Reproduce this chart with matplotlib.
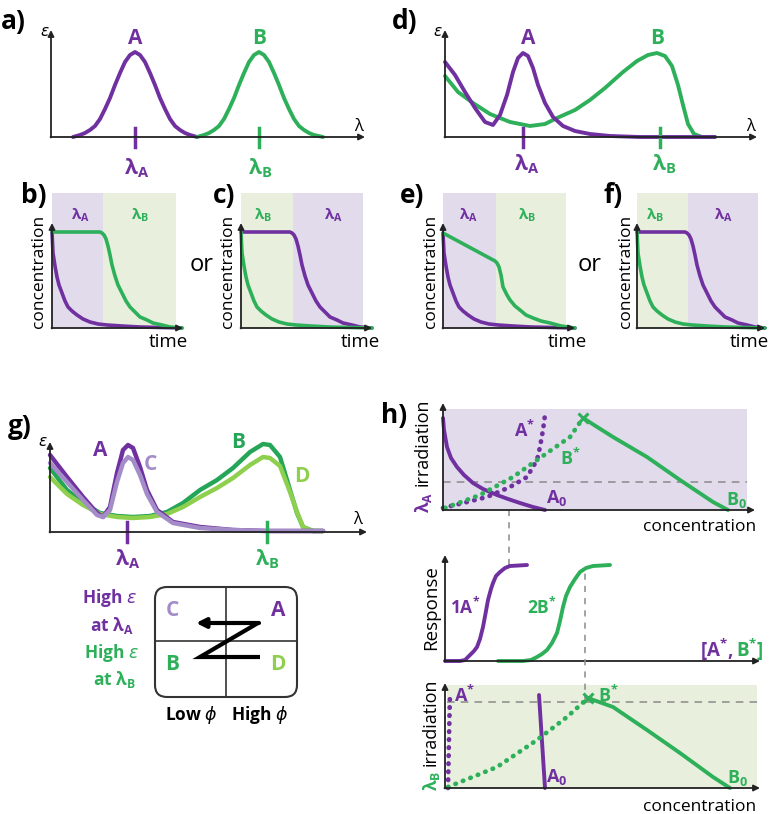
import matplotlib
matplotlib.use('Agg')
import matplotlib.pyplot as plt
from matplotlib.patches import Rectangle, FancyBboxPatch

plt.rcParams['font.family'] = ['Open Sans', 'DejaVu Sans']

# ---------------- colours ----------------
PURPLE = '#7030A0'
GREEN = '#2EB05A'
DGREEN = '#25A557'
LPURPLE = '#A48CC9'
LGREEN = '#8ED04E'
BG_PURPLE = '#E1DBEC'
BG_GREEN = '#E8F0DD'
AXC = '#222222'
DASH = '#8A8A8A'

# ---------------- data ----------------
# panel a : absorption spectra (wavelength, epsilon)
a_lam_A = [22, 29, 34, 39, 44, 49, 54, 59, 64, 69, 74, 79, 84, 89, 94, 99, 104, 109, 114, 119, 124, 129, 134, 139, 146]
a_eps_A = [0, 2, 4, 7, 11, 18, 28, 39, 52, 64, 75, 82, 85, 82, 75, 64, 52, 39, 28, 18, 11, 7, 4, 2, 0]
a_lam_B = [146, 153, 158, 163, 168, 173, 178, 183, 188, 193, 198, 203, 208, 213, 218, 223, 228, 233, 238, 243, 248, 253, 258, 263, 272]
a_eps_B = [0, 2, 4, 7, 11, 18, 28, 39, 52, 64, 75, 82, 85, 82, 75, 64, 52, 39, 28, 18, 11, 7, 4, 2, 0]
a_ticks = [84, 208]

# panel d
d_lam_A = [0, 10, 20, 30, 40, 48, 55, 62, 68, 73, 78, 83, 88, 93, 100, 108, 118, 130, 145, 165, 195, 270]
d_eps_A = [75, 62, 45, 29, 15, 12, 22, 42, 65, 79, 84, 81, 69, 52, 34, 20, 11, 6, 3, 1, 0, 0]
d_lam_B = [0, 13, 28, 45, 65, 85, 100, 112, 130, 145, 160, 178, 192, 203, 212, 220, 227, 233, 238, 243, 249, 257, 270]
d_eps_B = [61, 45, 34, 23, 15, 11, 13, 19, 27, 37, 49, 65, 76, 82, 84, 81, 71, 52, 32, 13, 3, 0, 0]
d_ticks = [78, 215]

# panels b, c, e, f : concentration vs time
b_t_A = [0, 1, 3, 5, 7, 10, 13, 16, 20, 25, 31, 38, 46, 55, 70, 88, 130]
b_c_A = [96, 75, 62, 51, 43, 35, 27, 21, 17, 13, 9, 6, 4, 3, 2, 1, 0]
b_t_B = [0, 48, 50, 52, 54, 56, 58, 60, 63, 66, 70, 74, 78, 83, 88, 95, 101, 110, 118, 130]
b_c_B = [96, 96, 95, 93, 89, 82, 73, 63, 52, 43, 35, 27, 21, 16, 11, 8, 5, 3, 1, 0]

c_t_B = [0, 1, 3, 5, 7, 10, 13, 16, 20, 25, 31, 38, 46, 55, 70, 88, 131]
c_c_B = [96, 75, 62, 51, 43, 35, 27, 21, 17, 13, 9, 6, 4, 3, 2, 1, 0]
c_t_A = [0, 49, 51, 53, 55, 57, 59, 61, 64, 67, 71, 75, 79, 84, 89, 96, 102, 111, 119, 131]
c_c_A = [96, 96, 95, 93, 89, 82, 73, 63, 52, 43, 35, 27, 21, 16, 11, 8, 5, 3, 1, 0]

e_t_A = [0, 1, 3, 5, 7, 10, 13, 16, 20, 25, 31, 38, 46, 55, 70, 88, 132]
e_c_A = [95, 75, 62, 51, 43, 35, 27, 21, 17, 13, 9, 6, 4, 3, 2, 1, 0]
e_t_B = [0, 52, 54, 56, 58, 60, 64, 67, 72, 77, 83, 90, 98, 107, 118, 132]
e_c_B = [95, 67, 65, 61, 53, 41, 33, 28, 22, 18, 13, 10, 7, 5, 2, 0]

f_t_B = [0, 1, 3, 5, 7, 10, 13, 16, 20, 25, 31, 38, 46, 55, 70, 88, 128]
f_c_B = [96, 75, 62, 51, 43, 35, 27, 21, 17, 13, 9, 6, 4, 3, 2, 1, 0]
f_t_A = [0, 48, 50, 52, 54, 56, 58, 60, 63, 66, 70, 74, 78, 83, 88, 95, 101, 110, 118, 128]
f_c_A = [96, 96, 95, 93, 89, 82, 73, 63, 52, 43, 35, 27, 21, 16, 11, 8, 5, 3, 1, 0]

# panel g
g_lam_AC = [0, 17, 33, 47, 53, 60, 67, 73, 78, 83, 90, 97, 107, 123, 150, 183, 217, 273]
g_eps_A = [77, 55, 35, 19, 15, 25, 59, 82, 87, 84, 65, 42, 22, 10, 5, 2, 1, 1]
g_eps_C = [69, 50, 32, 17, 15, 22, 50, 69, 75, 72, 57, 38, 20, 9, 4, 2, 1, 1]
g_lam_BD = [0, 17, 33, 50, 67, 83, 100, 117, 133, 150, 167, 183, 200, 213, 220, 230, 240, 247, 253, 263, 273]
g_eps_B = [64, 42, 29, 19, 16, 15, 16, 20, 29, 42, 52, 64, 80, 88, 87, 75, 42, 19, 5, 1, 1]
g_eps_D = [55, 38, 27, 18, 15, 14, 15, 18, 25, 35, 44, 54, 67, 75, 74, 66, 40, 20, 5, 1, 1]
g_ticks = [77, 217]

# panel h (top, lambda_A irradiation)
h1_conc_A0 = [0, 1, 4, 8, 14, 21, 30, 40, 54, 65, 77, 90, 102]
h1_irr_A0 = [92, 80, 63, 52, 43, 35, 27, 21, 15, 11, 7, 3, 0]
h1_conc_As = [0, 20, 44, 67, 84, 94, 97, 100, 102]
h1_irr_As = [2, 7, 13, 23, 33, 50, 63, 80, 95]
h1_conc_Bs = [2, 37, 70, 104, 127, 140]
h1_irr_Bs = [2, 15, 33, 57, 73, 92]
h1_conc_B0 = [140, 170, 204, 237, 270, 285]
h1_irr_B0 = [92, 73, 53, 30, 8, 0]

# panel h (middle, response)
m_conc_A = [0, 15, 20, 25, 29, 32, 35, 38, 41, 43, 46, 48, 51, 55, 60, 65, 82]
m_resp_A = [0, 0, 1, 6, 10, 14, 22, 34, 50, 61, 72, 78, 85, 89, 93, 95, 96]
m_conc_B = [53, 78, 86, 92, 97, 102, 107, 112, 115, 118, 121, 125, 130, 135, 141, 148, 165]
m_resp_B = [0, 0, 1, 4, 7, 11, 18, 28, 40, 54, 65, 74, 82, 89, 93, 95, 96]

# panel h (bottom, lambda_B irradiation)
h2_conc_As = [3, 4, 5]
h2_irr_As = [0, 50, 95]
h2_conc_A0 = [94, 100]
h2_irr_A0 = [93, 0]
h2_conc_Bs = [3, 52, 92, 122, 143]
h2_irr_Bs = [1, 21, 48, 71, 90]
h2_conc_B0 = [143, 168, 202, 235, 268, 285]
h2_irr_B0 = [90, 81, 58, 35, 11, 0]

# ---------------- figure ----------------
W, H = 775, 814
fig = plt.figure(figsize=(W / 100, H / 100), dpi=100)


def panel(ox, oy):
    ax = fig.add_axes([0, 0, 1, 1])
    ax.set_xlim(-ox, W - ox)
    ax.set_ylim(oy - H, oy)
    ax.axis('off')
    ax.patch.set_alpha(0)
    return ax


def arrows(ax, xlen, ylen, x0=0):
    kw = dict(arrowstyle='-|>', color=AXC, lw=1.3, mutation_scale=9, shrinkA=0, shrinkB=0)
    ax.annotate('', xy=(xlen, 0), xytext=(x0 - 0.5, 0), arrowprops=kw, zorder=5)
    ax.annotate('', xy=(0, ylen), xytext=(0, -0.5), arrowprops=kw, zorder=5)


def T(ax, x, y, s, color='black', size=12, weight='bold', **kw):
    ha = kw.pop('ha', 'center')
    va = kw.pop('va', 'center')
    ax.text(x, y, s, color=color, fontsize=size, fontweight=weight, ha=ha, va=va, **kw)


def line(ax, x, y, color, lw=2.8, **kw):
    ax.plot(x, y, color=color, lw=lw, solid_capstyle='round', solid_joinstyle='round', **kw)


def dotted(ax, x, y, color, lw=3.4):
    ax.plot(x, y, color=color, lw=lw, linestyle=(0, (0.1, 1.6)), dash_capstyle='round')


LA = 'λ$_\\mathregular{A}$'
LB = 'λ$_\\mathregular{B}$'
EPS = '$\\varepsilon$'
PLAB = 19

# ---- panel a ----
ax = panel(51, 137)
line(ax, a_lam_A, a_eps_A, PURPLE)
line(ax, a_lam_B, a_eps_B, GREEN)
arrows(ax, 314, 107)
ax.plot([a_ticks[0]] * 2, [-10, 9], color=PURPLE, lw=2.5)
ax.plot([a_ticks[1]] * 2, [-10, 9], color=GREEN, lw=2.5)
T(ax, -50, 115, 'a)', size=PLAB, ha='left')
T(ax, -6, 104, EPS, size=11, weight='normal')
T(ax, 308, 10, 'λ', size=12, weight='normal')
T(ax, 84, 98, 'A', PURPLE, 15)
T(ax, 208, 98, 'B', GREEN, 15)
T(ax, 86, -31, LA, PURPLE, 15)
T(ax, 209, -31, LB, GREEN, 15)

# ---- panel d ----
ax = panel(445, 137)
line(ax, d_lam_B, d_eps_B, GREEN)
line(ax, d_lam_A, d_eps_A, PURPLE)
arrows(ax, 312, 107)
ax.plot([d_ticks[0]] * 2, [-10, 9], color=PURPLE, lw=2.5)
ax.plot([d_ticks[1]] * 2, [-10, 9], color=GREEN, lw=2.5)
T(ax, -53, 115, 'd)', size=PLAB, ha='left')
T(ax, -7, 104, EPS, size=11, weight='normal')
T(ax, 306, 10, 'λ', size=12, weight='normal')
T(ax, 83, 98, 'A', PURPLE, 15)
T(ax, 212, 98, 'B', GREEN, 15)
T(ax, 82, -27, LA, PURPLE, 15)
T(ax, 219, -27, LB, GREEN, 15)


def kinetics(ox, regions, tA, cA, tB, cB, label, lab_x, conc_x, time_x, xlen):
    ax = panel(ox, 328)
    for (x0, x1, col) in regions:
        ax.add_patch(Rectangle((x0, 0), x1 - x0, 135, color=col, lw=0, zorder=0))
    line(ax, tA, cA, PURPLE, lw=2.6)
    line(ax, tB, cB, GREEN, lw=2.6)
    arrows(ax, xlen, 105)
    T(ax, lab_x, 132, label, size=PLAB)
    T(ax, conc_x, 57, 'concentration', size=12.5, weight='normal', rotation=90)
    T(ax, time_x, -14, 'time', size=13.5, weight='normal')
    return ax


ax = kinetics(52, [(0, 51, BG_PURPLE), (51, 124, BG_GREEN)], b_t_A, b_c_A, b_t_B, b_c_B,
              'b)', -18, -13, 116, 131)
T(ax, 28, 113, LA, PURPLE, 11)
T(ax, 88, 113, LB, GREEN, 11)
T(ax, 150, 63, 'or', size=17, weight='normal')

ax = kinetics(241, [(0, 52, BG_GREEN), (52, 122, BG_PURPLE)], c_t_A, c_c_A, c_t_B, c_c_B,
              'c)', -17, -13, 119, 131)
T(ax, 22, 113, LB, GREEN, 11)
T(ax, 92, 113, LA, PURPLE, 11)

ax = kinetics(443, [(0, 53, BG_PURPLE), (53, 123, BG_GREEN)], e_t_A, e_c_A, e_t_B, e_c_B,
              'e)', -31, -12, 124, 132)
T(ax, 25, 113, LA, PURPLE, 11)
T(ax, 84, 113, LB, GREEN, 11)
T(ax, 147, 63, 'or', size=17, weight='normal')

ax = kinetics(637, [(0, 51, BG_GREEN), (51, 121, BG_PURPLE)], f_t_A, f_c_A, f_t_B, f_c_B,
              'f)', -24, -11, 112, 128)
T(ax, 18, 113, LB, GREEN, 11)
T(ax, 86, 113, LA, PURPLE, 11)

# ---- panel g ----
ax = panel(50, 532)
line(ax, g_lam_BD, g_eps_B, DGREEN, lw=3.2)
line(ax, g_lam_BD, g_eps_D, LGREEN, lw=3.2)
line(ax, g_lam_AC, g_eps_A, PURPLE, lw=3.2)
line(ax, g_lam_AC, g_eps_C, LPURPLE, lw=3.2)
arrows(ax, 317, 90)
ax.plot([g_ticks[0]] * 2, [-10, 10], color=PURPLE, lw=2.5)
ax.plot([g_ticks[1]] * 2, [-10, 10], color=GREEN, lw=2.5)
T(ax, -30, 106, 'g)', size=PLAB)
T(ax, -7, 90, EPS, size=11, weight='normal')
T(ax, 308, 12, 'λ', size=12, weight='normal')
T(ax, 50, 82, 'A', PURPLE, 15)
T(ax, 100, 67, 'C', LPURPLE, 15)
T(ax, 188, 89, 'B', DGREEN, 15)
T(ax, 252, 55, 'D', LGREEN, 15)
T(ax, 78, -27, LA, PURPLE, 15)
T(ax, 217, -27, LB, GREEN, 15)

# ---- table under g ----
ax = panel(155, 697)
ax.add_patch(FancyBboxPatch((0, 0), 142, 110, boxstyle='round,pad=0,rounding_size=12',
                            fc='white', ec='#333333', lw=1.5))
ax.plot([71, 71], [0, 110], color='#333333', lw=1.2)
ax.plot([0, 142], [56, 56], color='#333333', lw=1.2)
ax.plot([105, 45, 103], [40, 40, 74], color='black', lw=3, solid_joinstyle='miter', solid_capstyle='butt')
ax.annotate('', xy=(41, 74), xytext=(104, 74),
            arrowprops=dict(arrowstyle='-|>', color='black', lw=3, mutation_scale=14, shrinkA=0, shrinkB=0))
T(ax, 17, 87, 'C', LPURPLE, 15)
T(ax, 123, 86, 'A', PURPLE, 15)
T(ax, 17, 32, 'B', GREEN, 15)
T(ax, 123, 33, 'D', LGREEN, 15)
T(ax, -45, 99, 'High ' + EPS, PURPLE, 12.5)
T(ax, -43, 72, 'at ' + LA, PURPLE, 12.5)
T(ax, -43, 44, 'High ' + EPS, GREEN, 12.5)
T(ax, -41, 17, 'at ' + LB, GREEN, 12.5)
T(ax, 36, -18, 'Low $\\phi$', 'black', 12.5)
T(ax, 105, -18, 'High $\\phi$', 'black', 12.5)

# ---- panel h top ----
ax = panel(443, 510)
ax.add_patch(Rectangle((0, 0), 304, 101, color=BG_PURPLE, lw=0, zorder=0))
ax.plot([0, 304], [28, 28], color=DASH, lw=1.1, dashes=(5, 4))
ax.plot([66, 66], [0, -56], color=DASH, lw=1.1, dashes=(4, 4))
line(ax, h1_conc_A0, h1_irr_A0, PURPLE, lw=2.8)
dotted(ax, h1_conc_As, h1_irr_As, PURPLE)
dotted(ax, h1_conc_Bs, h1_irr_Bs, GREEN)
line(ax, h1_conc_B0, h1_irr_B0, GREEN, lw=2.8)
ax.plot([h1_conc_B0[0]], [h1_irr_B0[0]], 'x', color=GREEN, ms=7, mew=2.2)
arrows(ax, 312, 107)
T(ax, -49, 95, 'h)', size=PLAB)
T(ax, -20, 68, 'irradiation', size=13, weight='normal', rotation=90)
T(ax, -20, 8, LA, PURPLE, 12.5, rotation=90)
T(ax, 82, 80, 'A$^\\mathregular{*}$', PURPLE, 13)
T(ax, 127, 52, 'B$^\\mathregular{*}$', GREEN, 13)
T(ax, 114, 12, 'A$_\\mathregular{0}$', PURPLE, 13)
T(ax, 294, 10, 'B$_\\mathregular{0}$', GREEN, 13)
T(ax, 257, -17, 'concentration', size=12.5, weight='normal')

# ---- panel h middle ----
ax = panel(445, 661)
line(ax, m_conc_A, m_resp_A, PURPLE, lw=2.8)
line(ax, m_conc_B, m_resp_B, GREEN, lw=2.8)
arrows(ax, 315, 106)
T(ax, -14, 53, 'Response', size=13.5, weight='normal', rotation=90)
T(ax, 20, 54, '1A$^\\mathregular{*}$', PURPLE, 12.5)
T(ax, 97, 54, '2B$^\\mathregular{*}$', GREEN, 12.5)
T(ax, 288, 11, '[A$^\\mathregular{*}$,', PURPLE, 13.5, ha='right')
T(ax, 291, 11, 'B$^\\mathregular{*}$]', GREEN, 13.5, ha='left')

# ---- panel h bottom ----
ax = panel(445, 788)
ax.add_patch(Rectangle((2, 0), 310, 103, color=BG_GREEN, lw=0, zorder=0))
ax.plot([2, 312], [86, 86], color=DASH, lw=1.1, dashes=(5, 4))
ax.plot([140, 140], [86, 221], color=DASH, lw=1.1, dashes=(4, 4))
dotted(ax, h2_conc_As, h2_irr_As, PURPLE)
line(ax, h2_conc_A0, h2_irr_A0, PURPLE, lw=2.8)
dotted(ax, h2_conc_Bs, h2_irr_Bs, GREEN)
line(ax, h2_conc_B0, h2_irr_B0, GREEN, lw=2.8)
ax.plot([h2_conc_B0[0]], [h2_irr_B0[0]], 'x', color=GREEN, ms=7, mew=2.2)
arrows(ax, 315, 105)
T(ax, -14, 66, 'irradiation', size=13, weight='normal', rotation=90)
T(ax, -14, 7, LB, GREEN, 12.5, rotation=90)
T(ax, 20, 93, 'A$^\\mathregular{*}$', PURPLE, 13)
T(ax, 163, 93, 'B$^\\mathregular{*}$', GREEN, 13)
T(ax, 112, 11, 'A$_\\mathregular{0}$', PURPLE, 13)
T(ax, 293, 10, 'B$_\\mathregular{0}$', GREEN, 13)
T(ax, 255, -19, 'concentration', size=12.5, weight='normal')

fig.savefig('out.png', dpi=100)
